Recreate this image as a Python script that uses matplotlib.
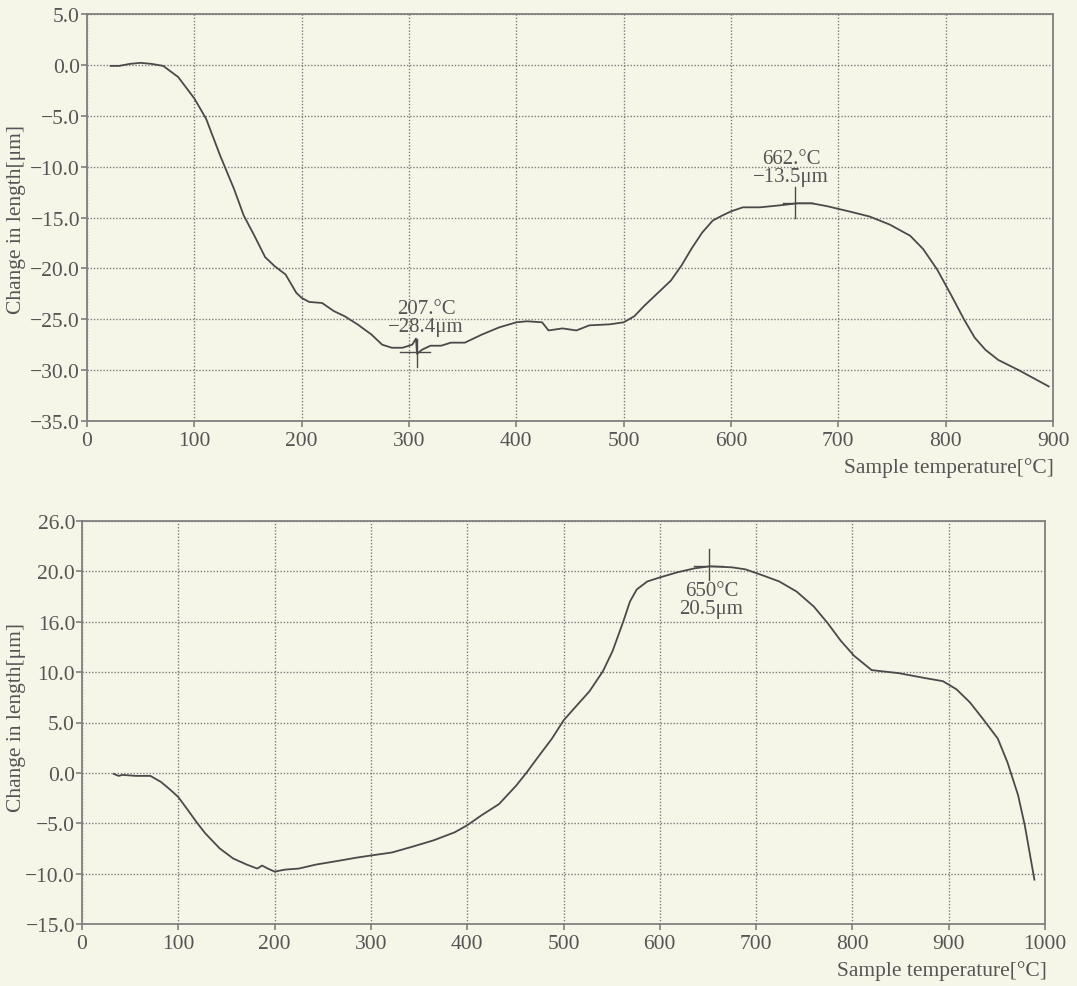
import matplotlib
matplotlib.use("Agg")
import matplotlib.pyplot as plt

# ---------------- data ----------------
top_T = [22, 30, 40, 50, 60, 71, 85, 100, 111, 124, 137, 146, 156, 166, 175, 185,
         195, 200, 207, 219, 230, 240, 252, 265, 275, 284, 294, 300, 303, 306.5,
         307.5, 312, 320, 330, 339, 352, 368, 384, 400, 410, 424, 430, 443, 456,
         468, 487, 500, 510, 519, 532, 544, 554, 563, 573, 583, 592, 600, 611, 627,
         646, 662, 675, 690, 710, 729, 748, 767, 779, 792, 805, 817, 827, 837, 849,
         868, 896]
top_dL = [-0.1, -0.1, 0.1, 0.2, 0.1, -0.1, -1.2, -3.3, -5.3, -8.9, -12.2, -14.8,
          -16.8, -18.9, -19.8, -20.6, -22.4, -22.9, -23.3, -23.4, -24.2, -24.7,
          -25.5, -26.5, -27.5, -27.8, -27.8, -27.6, -27.5, -26.9, -28.4, -28.0,
          -27.6, -27.6, -27.3, -27.3, -26.5, -25.8, -25.3, -25.2, -25.3, -26.1,
          -25.9, -26.1, -25.6, -25.5, -25.3, -24.7, -23.7, -22.4, -21.2, -19.7,
          -18.1, -16.5, -15.3, -14.8, -14.4, -14.0, -14.0, -13.8, -13.6, -13.6,
          -13.9, -14.4, -14.9, -15.7, -16.8, -18.1, -20.1, -22.6, -25.0, -26.8,
          -28.0, -29.0, -30.0, -31.6]

bot_T = [33, 38, 42, 56, 71, 82, 92, 100, 110, 119, 128, 143, 157, 171, 182, 187,
         193, 200, 211, 225, 243, 265, 286, 300, 322, 344, 365, 387, 400, 415, 433,
         451, 462, 473, 488, 500, 512, 527, 541, 551, 562, 569, 576, 587, 600, 618,
         636, 652, 675, 689, 707, 724, 742, 760, 774, 788, 802, 820, 848, 876, 894,
         908, 922, 936, 951, 961, 972, 979, 989]
bot_dL = [-0.1, -0.3, -0.2, -0.3, -0.3, -0.9, -1.7, -2.4, -3.7, -4.9, -6.0, -7.5,
          -8.5, -9.1, -9.5, -9.2, -9.5, -9.8, -9.6, -9.5, -9.1, -8.75, -8.4, -8.2,
          -7.9, -7.3, -6.7, -5.9, -5.2, -4.2, -3.1, -1.25, 0.07, 1.5, 3.4, 5.2,
          6.5, 8.1, 10.1, 12.1, 15.0, 17.0, 18.2, 19.0, 19.4, 19.9, 20.3, 20.5,
          20.4, 20.2, 19.6, 19.0, 18.0, 16.5, 14.9, 13.1, 11.6, 10.2, 9.9, 9.4,
          9.1, 8.3, 7.0, 5.3, 3.4, 1.05, -2.2, -5.2, -10.6]

top_xticks = [0, 100, 200, 300, 400, 500, 600, 700, 800, 900]
top_yticks = [-35, -30, -25, -20, -15, -10, -5, 0, 5]
top_ylabels = ["−35.0", "−30.0", "−25.0", "−20.0", "−15.0", "−10.0", "−5.0", "0.0", "5.0"]

bot_xticks = [0, 100, 200, 300, 400, 500, 600, 700, 800, 900, 1000]
bot_yticks = [-15, -10, -5, 0, 5, 10, 15, 20, 25]
bot_ylabels = ["−15.0", "−10.0", "−5.0", "0.0", "5.0", "10.0", "16.0", "20.0", "26.0"]

ann_top1 = "207.°C\n−28.4μm"
ann_top2 = "662.°C\n−13.5μm"
ann_bot = "650°C\n20.5μm"

# ---------------- style ----------------
bg = "#f6f6e8"
txt = "#555555"
spine_c = "#808080"
grid_c = "#7c7c7c"
line_c = "#4a4a4a"
plt.rcParams["font.family"] = ["Liberation Serif", "DejaVu Serif"]

W, H = 1077, 987
fig = plt.figure(figsize=(W / 100, H / 100), dpi=100, facecolor=bg)


def px_axes(l, t, r, b):
    return [l / W, 1 - b / H, (r - l) / W, (b - t) / H]


ax1 = fig.add_axes(px_axes(87, 15, 1053, 422))
ax2 = fig.add_axes(px_axes(82, 522, 1045, 925))


def style(ax, xticks, yticks, ylabels, xlim, ylim):
    ax.set_facecolor(bg)
    ax.set_xlim(*xlim)
    ax.set_ylim(*ylim)
    ax.set_xticks(xticks)
    ax.set_xticklabels([str(v) for v in xticks])
    ax.set_yticks(yticks)
    ax.set_yticklabels(ylabels)
    for s in ax.spines.values():
        s.set_color(spine_c)
        s.set_linewidth(1.3)
    ax.tick_params(direction="out", length=4.5, width=1.2, color=spine_c,
                   labelcolor=txt, labelsize=15.5)
    ax.tick_params(axis="y", pad=0.5)
    ax.tick_params(axis="x", pad=3)
    ax.grid(True, linestyle=(0, (1, 1.3)), color=grid_c, linewidth=1.0)
    ax.set_axisbelow(True)


style(ax1, top_xticks, top_yticks, top_ylabels, (0, 900), (-35, 5))
style(ax2, bot_xticks, bot_yticks, bot_ylabels, (0, 1000), (-15, 25))

ax1.plot(top_T, top_dL, color=line_c, lw=1.3)
ax2.plot(bot_T, bot_dL, color=line_c, lw=1.3)

# markers / annotations top
ax1.plot([307, 307], [-26.9, -29.7], color=line_c, lw=1.0)
ax1.plot([292, 320], [-28.2, -28.2], color=line_c, lw=1.0)
ax1.text(316, -24.85, ann_top1, ha="center", va="center", fontsize=15,
         color=txt, linespacing=0.92, multialignment="center")

ax1.plot([660, 660], [-12.05, -15.0], color=line_c, lw=1.0)
ax1.plot([648, 676], [-13.6, -13.6], color=line_c, lw=1.0)
ax1.text(656, -10.1, ann_top2, ha="center", va="center", fontsize=15,
         color=txt, linespacing=0.92, multialignment="center")

# markers / annotations bottom
ax2.plot([651.4, 651.4], [22.2, 19.1], color=line_c, lw=1.0)
ax2.plot([635, 666], [20.56, 20.56], color=line_c, lw=1.0)
ax2.text(653.5, 17.25, ann_bot, ha="center", va="center", fontsize=15,
         color=txt, linespacing=0.92, multialignment="center")

# axis labels
fig.text(1054 / W, 1 - 468 / H, "Sample temperature[°C]", ha="right", va="center",
         fontsize=15.5, color=txt)
fig.text(1047 / W, 1 - 971 / H, "Sample temperature[°C]", ha="right", va="center",
         fontsize=15.5, color=txt)
fig.text(17 / W, 1 - 219 / H, "Change in length[μm]", ha="center", va="center",
         rotation=90, fontsize=15.5, color=txt)
fig.text(17 / W, 1 - 718 / H, "Change in length[μm]", ha="center", va="center",
         rotation=90, fontsize=15.5, color=txt)

fig.savefig("out.png", dpi=100, facecolor=bg)
